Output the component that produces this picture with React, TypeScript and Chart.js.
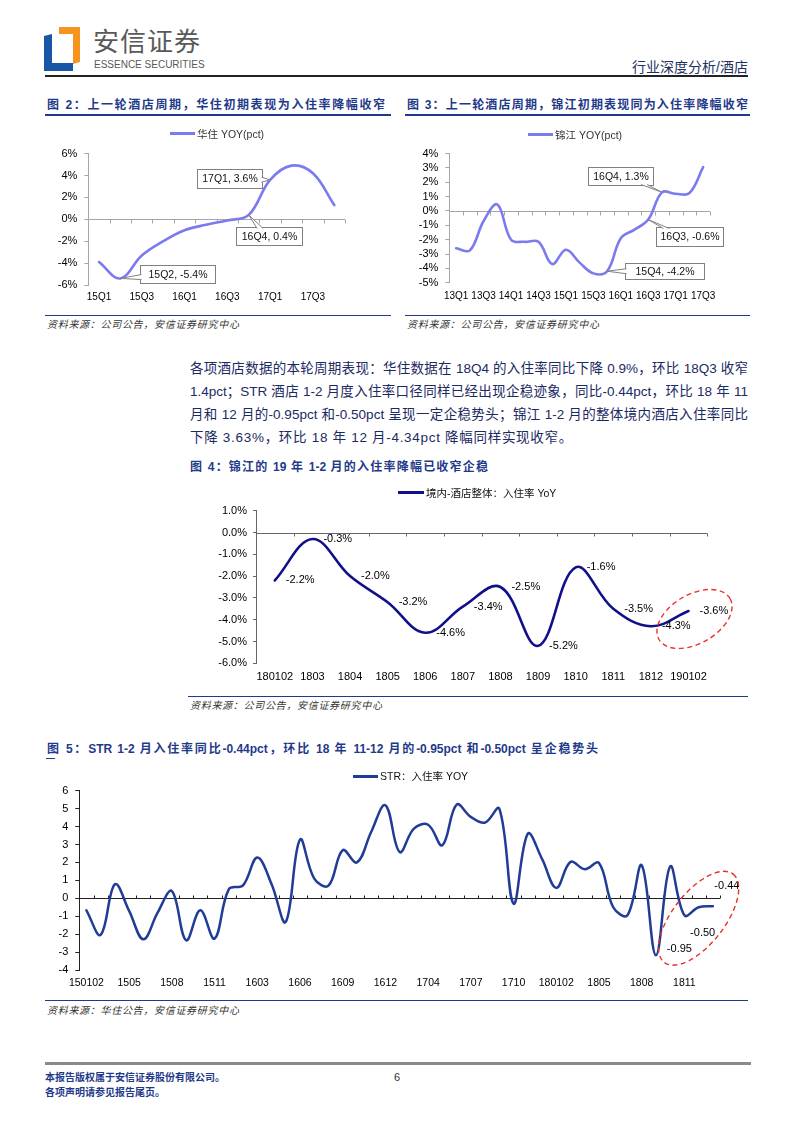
import React, { useEffect, useRef } from "react";
import { Chart, registerables } from "chart.js";

Chart.register(...registerables);

const FONT = '"Liberation Sans", Arial, "Noto Sans CJK SC", sans-serif';
const NAVY = "#1f3a8a";
const TEXT_BLUE = "#1b2a63";

// ---------------- Figure 2: Huazhu quarterly occupancy YoY ----------------
const huazhuQuarters = ["15Q1", "15Q2", "15Q3", "15Q4", "16Q1", "16Q2", "16Q3", "16Q4", "17Q1", "17Q2", "17Q3", "17Q4"];
const huazhuYoy = [-3.9, -5.4, -3.3, -2.0, -1.0, -0.5, -0.1, 0.4, 3.6, 4.9, 4.2, 1.3];
const huazhuShownTicks = ["15Q1", "15Q3", "16Q1", "16Q3", "17Q1", "17Q3"];
const huazhuCalloutQuarters = ["17Q1", "16Q4", "15Q2"];

// ---------------- Figure 3: Jinjiang quarterly occupancy YoY ----------------
const jinjiangQuarters = ["13Q1", "13Q2", "13Q3", "13Q4", "14Q1", "14Q2", "14Q3", "14Q4", "15Q1", "15Q2", "15Q3", "15Q4", "16Q1", "16Q2", "16Q3", "16Q4", "17Q1", "17Q2", "17Q3"];
const jinjiangYoy = [-2.6, -2.75, -0.7, 0.45, -2.0, -2.15, -2.15, -3.7, -2.7, -3.6, -4.35, -4.2, -1.9, -1.3, -0.6, 1.3, 1.2, 1.25, 3.05];
const jinjiangShownTicks = ["13Q1", "13Q3", "14Q1", "14Q3", "15Q1", "15Q3", "16Q1", "16Q3", "17Q1", "17Q3"];
const jinjiangCalloutQuarters = ["16Q4", "16Q3", "15Q4"];

// ---------------- Figure 4: Jinjiang domestic hotels monthly YoY ----------------
const domesticMonths = ["180102", "1803", "1804", "1805", "1806", "1807", "1808", "1809", "1810", "1811", "1812", "190102"];
const domesticYoy = [-2.2, -0.3, -2.0, -3.2, -4.6, -3.4, -2.5, -5.2, -1.6, -3.5, -4.3, -3.6];

// ---------------- Figure 5: STR monthly occupancy YoY ----------------
const strMonths = [
  "150102", "1503", "1504", "1505", "1506", "1507", "1508", "1509", "1510", "1511", "1512",
  "160102", "1603", "1604", "1605", "1606", "1607", "1608", "1609", "1610", "1611", "1612",
  "170102", "1703", "1704", "1705", "1706", "1707", "1708", "1709", "1710", "1711", "1712",
  "180102", "1803", "1804", "1805", "1806", "1807", "1808", "1809", "1810", "1811", "1812",
  "190102",
];
const strYoy = [
  -0.67, -2.04, 0.78, -0.7, -2.29, -0.8, 0.4, -2.34, -0.67, -2.25, 0.5,
  0.72, 2.27, 0.8, -1.32, 3.27, 1.1, 0.7, 2.68, 2.0, 3.7, 5.19,
  2.58, 3.88, 4.1, 2.96, 5.22, 4.54, 4.22, 5.0, -0.3, 3.6, 2.2,
  0.58, 2.03, 1.62, 1.97, -0.5, -0.95, 1.84, -3.18, 1.78, -0.95, -0.5,
  -0.44,
];
const strShownTicks = ["150102", "1505", "1508", "1511", "1603", "1606", "1609", "1612", "1704", "1707", "1710", "180102", "1805", "1808", "1811"];
const strLabelledMonths = ["1811", "1812", "190102"];

// ---------------- styling of annotations (offsets in px from the data point) ----------------
const huazhuCalloutBoxes = [
  { dx: -41, dy: -1, w: 65, h: 19 },
  { dx: 20, dy: 21, w: 66, h: 18 },
  { dx: 57, dy: -4, w: 75, h: 18 },
];
const jinjiangCalloutBoxes = [
  { dx: -41, dy: -16, w: 65, h: 18 },
  { dx: 41, dy: 17, w: 67, h: 19 },
  { dx: 57, dy: 0, w: 79, h: 16 },
];
const strLabelOffsets = [
  { dx: -5, dy: 34 },
  { dx: 4, dy: 26 },
  { dx: 14, dy: -20 },
];

const pct1 = (v: number) => `${v.toFixed(1)}%`;

type Px = (i: number) => number;
type Decorate = (ctx: CanvasRenderingContext2D, px: Px, py: Px) => void;

interface Spec {
  id: string;
  left: number;
  top: number;
  width: number;
  height: number;
  labels: string[];
  values: number[];
  shown: string[];
  color: string;
  lineWidth: number;
  tension: number;
  yMin: number;
  yMax: number;
  yStep: number;
  yFormat: (v: number) => string;
  yAxisWidth: number;
  xAxisHeight: number;
  padTop: number;
  padRight: number;
  yFont: number;
  xFont: number;
  yTickLen: number;
  yTickPad: number;
  xTickPad: number;
  axisColor: string;
  zeroColor: string;
  zeroTick: number;
  decorate?: Decorate;
}

function drawCallout(ctx: CanvasRenderingContext2D, tx: number, ty: number, text: string, dx: number, dy: number, w: number, h: number) {
  const cx = tx + dx;
  const cy = ty + dy;
  const x0 = Math.round(cx - w / 2) + 0.5;
  const y0 = Math.round(cy - h / 2) + 0.5;
  ctx.fillStyle = "#fff";
  ctx.strokeStyle = "#808080";
  ctx.lineWidth = 1;
  ctx.fillRect(x0, y0, w, h);
  ctx.strokeRect(x0, y0, w, h);
  const ddx = tx - cx;
  const ddy = ty - cy;
  let b1: [number, number];
  let b2: [number, number];
  if (Math.abs(ddx) / (w / 2) > Math.abs(ddy) / (h / 2)) {
    const sx = Math.sign(ddx);
    const ex = x0 + (sx > 0 ? w : 0) - sx * 1;
    let ey = cy + (ddy * (w / 2)) / Math.abs(ddx);
    ey = Math.max(y0 + 3, Math.min(y0 + h - 3, ey));
    b1 = [ex, ey - 2.5];
    b2 = [ex, ey + 2.5];
  } else {
    const sy = Math.sign(ddy);
    const ey = y0 + (sy > 0 ? h : 0) - sy * 1;
    let ex = cx + (ddx * (h / 2)) / Math.abs(ddy);
    ex = Math.max(x0 + 4, Math.min(x0 + w - 4, ex));
    b1 = [ex - 3, ey];
    b2 = [ex + 3, ey];
  }
  ctx.beginPath();
  ctx.moveTo(b1[0], b1[1]);
  ctx.lineTo(tx, ty);
  ctx.lineTo(b2[0], b2[1]);
  ctx.closePath();
  ctx.fill();
  ctx.beginPath();
  ctx.moveTo(b1[0], b1[1]);
  ctx.lineTo(tx, ty);
  ctx.lineTo(b2[0], b2[1]);
  ctx.stroke();
  ctx.fillStyle = "#111";
  ctx.font = `10.5px ${FONT}`;
  ctx.textAlign = "center";
  ctx.textBaseline = "middle";
  ctx.fillText(text, x0 + w / 2, y0 + h / 2 + 0.5);
}

function drawEllipse(ctx: CanvasRenderingContext2D, cx: number, cy: number, a: number, b: number, deg: number) {
  ctx.save();
  ctx.strokeStyle = "#e8302c";
  ctx.lineWidth = 1.4;
  ctx.setLineDash([5, 3.5]);
  ctx.beginPath();
  ctx.ellipse(cx, cy, a, b, (deg * Math.PI) / 180, 0, Math.PI * 2);
  ctx.stroke();
  ctx.restore();
}

function LineChart({ spec }: { spec: Spec }) {
  const ref = useRef<HTMLCanvasElement>(null);
  useEffect(() => {
    const s = spec;
    const frame = {
      id: "frame_" + s.id,
      beforeDatasetsDraw(chart: any) {
        const { ctx } = chart;
        const x = chart.scales.x;
        const y = chart.scales.y;
        const y0 = Math.round(y.getPixelForValue(0)) + 0.5;
        ctx.save();
        ctx.strokeStyle = s.zeroColor;
        ctx.lineWidth = 1;
        ctx.beginPath();
        ctx.moveTo(x.left, y0);
        ctx.lineTo(x.right, y0);
        const n = s.labels.length;
        const step = (x.right - x.left) / n;
        for (let k = 0; k <= n; k++) {
          const xx = Math.round(x.left + k * step) + 0.5;
          ctx.moveTo(xx, y0);
          ctx.lineTo(xx, y0 + s.zeroTick);
        }
        ctx.stroke();
        ctx.restore();
      },
      afterDatasetsDraw(chart: any) {
        if (!s.decorate) return;
        const x = chart.scales.x;
        const y = chart.scales.y;
        chart.ctx.save();
        s.decorate(chart.ctx, (i: number) => x.getPixelForValue(i), (v: number) => y.getPixelForValue(v));
        chart.ctx.restore();
      },
    };
    const chart = new Chart(ref.current as HTMLCanvasElement, {
      type: "line",
      data: {
        labels: s.labels,
        datasets: [
          {
            data: s.values,
            borderColor: s.color,
            borderWidth: s.lineWidth,
            tension: s.tension,
            pointRadius: 0,
            fill: false,
            borderCapStyle: "round",
            borderJoinStyle: "round",
          },
        ],
      },
      options: {
        responsive: false,
        animation: false,
        events: [],
        layout: { padding: { top: s.padTop, right: s.padRight, left: 0, bottom: 0 } },
        plugins: { legend: { display: false }, tooltip: { enabled: false } },
        scales: {
          x: {
            type: "category",
            offset: true,
            grid: { display: false, drawTicks: false },
            border: { display: false },
            ticks: {
              autoSkip: false,
              maxRotation: 0,
              minRotation: 0,
              padding: s.xTickPad,
              color: "#000",
              font: { family: FONT, size: s.xFont },
              callback: (_v: any, i: number) => (s.shown.includes(s.labels[i]) ? s.labels[i] : ""),
            },
            afterFit: (sc: any) => {
              sc.height = s.xAxisHeight;
            },
          },
          y: {
            min: s.yMin,
            max: s.yMax,
            grid: { drawOnChartArea: false, drawTicks: true, tickLength: s.yTickLen, color: s.axisColor },
            border: { display: true, color: s.axisColor },
            ticks: {
              autoSkip: false,
              stepSize: s.yStep,
              padding: s.yTickPad,
              color: "#000",
              font: { family: FONT, size: s.yFont },
              callback: (v: any) => s.yFormat(Number(v)),
            },
            afterFit: (sc: any) => {
              sc.width = s.yAxisWidth;
            },
          },
        },
      } as any,
      plugins: [frame],
    });
    return () => chart.destroy();
  }, []);
  return (
    <canvas
      ref={ref}
      width={spec.width}
      height={spec.height}
      style={{ position: "absolute", left: spec.left, top: spec.top, width: spec.width, height: spec.height }}
    />
  );
}

const huazhuSpec: Spec = {
  id: "huazhu",
  left: 40,
  top: 140,
  width: 320,
  height: 170,
  labels: huazhuQuarters,
  values: huazhuYoy,
  shown: huazhuShownTicks,
  color: "#7b7bf0",
  lineWidth: 2.6,
  tension: 0.38,
  yMin: -6,
  yMax: 6,
  yStep: 2,
  yFormat: (v) => `${v}%`,
  yAxisWidth: 48.3,
  xAxisHeight: 25,
  padTop: 9,
  padRight: 15,
  yFont: 11,
  xFont: 10,
  yTickLen: 4,
  yTickPad: 7,
  xTickPad: 6.5,
  axisColor: "#a6a6a6",
  zeroColor: "#a6a6a6",
  zeroTick: 4,
  decorate: (ctx, px, py) => {
    huazhuCalloutQuarters.forEach((q, k) => {
      const i = huazhuQuarters.indexOf(q);
      const v = huazhuYoy[i];
      const b = huazhuCalloutBoxes[k];
      drawCallout(ctx, px(i), py(v), `${q}, ${pct1(v)}`, b.dx, b.dy, b.w, b.h);
    });
  },
};

const jinjiangSpec: Spec = {
  id: "jinjiang",
  left: 400,
  top: 140,
  width: 360,
  height: 170,
  labels: jinjiangQuarters,
  values: jinjiangYoy,
  shown: jinjiangShownTicks,
  color: "#7b7bf0",
  lineWidth: 2.6,
  tension: 0.38,
  yMin: -5,
  yMax: 4,
  yStep: 1,
  yFormat: (v) => `${v}%`,
  yAxisWidth: 49.3,
  xAxisHeight: 27.3,
  padTop: 10,
  padRight: 50,
  yFont: 11,
  xFont: 10,
  yTickLen: 4,
  yTickPad: 7,
  xTickPad: 7.8,
  axisColor: "#a6a6a6",
  zeroColor: "#a6a6a6",
  zeroTick: 4,
  decorate: (ctx, px, py) => {
    jinjiangCalloutQuarters.forEach((q, k) => {
      const i = jinjiangQuarters.indexOf(q);
      const v = jinjiangYoy[i];
      const b = jinjiangCalloutBoxes[k];
      drawCallout(ctx, px(i), py(v), `${q}, ${pct1(v)}`, b.dx, b.dy, b.w, b.h);
    });
  },
};

const domesticSpec: Spec = {
  id: "domestic",
  left: 185,
  top: 482,
  width: 560,
  height: 208,
  labels: domesticMonths,
  values: domesticYoy,
  shown: domesticMonths,
  color: "#10108c",
  lineWidth: 2.6,
  tension: 0.38,
  yMin: -6,
  yMax: 1,
  yStep: 1,
  yFormat: (v) => `${v.toFixed(1)}%`,
  yAxisWidth: 71,
  xAxisHeight: 26.7,
  padTop: 28.7,
  padRight: 37.7,
  yFont: 11,
  xFont: 11,
  yTickLen: 3,
  yTickPad: 6,
  xTickPad: 6.7,
  axisColor: "#666",
  zeroColor: "#666",
  zeroTick: 3,
  decorate: (ctx, px, py) => {
    ctx.fillStyle = "#000";
    ctx.font = `11px ${FONT}`;
    ctx.textAlign = "left";
    ctx.textBaseline = "middle";
    domesticYoy.forEach((v, i) => {
      ctx.fillText(pct1(v), px(i) + 11, py(v));
    });
    const last = domesticYoy.length - 1;
    drawEllipse(ctx, px(last) + 6, py(domesticYoy[last]) + 8, 41, 24.5, -30);
  },
};

const strSpec: Spec = {
  id: "str",
  left: 30,
  top: 765,
  width: 730,
  height: 230,
  labels: strMonths,
  values: strYoy,
  shown: strShownTicks,
  color: "#203c96",
  lineWidth: 2.5,
  tension: 0.38,
  yMin: -4,
  yMax: 6,
  yStep: 1,
  yFormat: (v) => `${v}`,
  yAxisWidth: 49.3,
  xAxisHeight: 25,
  padTop: 25.7,
  padRight: 40,
  yFont: 11,
  xFont: 10.5,
  yTickLen: 4,
  yTickPad: 7,
  xTickPad: 7.2,
  axisColor: "#222",
  zeroColor: "#222",
  zeroTick: -3,
  decorate: (ctx, px, py) => {
    ctx.fillStyle = "#000";
    ctx.font = `11px ${FONT}`;
    ctx.textAlign = "center";
    ctx.textBaseline = "middle";
    strLabelledMonths.forEach((m, k) => {
      const i = strMonths.indexOf(m);
      const v = strYoy[i];
      const o = strLabelOffsets[k];
      ctx.fillText(v.toFixed(2), px(i) + o.dx, py(v) + o.dy);
    });
    const mid = strMonths.indexOf("1812");
    drawEllipse(ctx, px(mid), py(strYoy[mid]) + 11, 56, 26, -52);
  },
};

interface TxtProps {
  x: number;
  y: number;
  w?: number;
  size: number;
  color?: string;
  bold?: boolean;
  italic?: boolean;
  justify?: boolean;
  right?: boolean;
  ls?: number;
  lh?: number;
  children: React.ReactNode;
}

function Txt({ x, y, w, size, color = "#000", bold, italic, justify, right, ls, lh, children }: TxtProps) {
  const lineH = lh ?? Math.round(size * 1.5);
  return (
    <div
      style={{
        position: "absolute",
        left: x,
        top: y - lineH / 2,
        width: w,
        fontSize: size,
        lineHeight: `${lineH}px`,
        color,
        fontWeight: bold ? 700 : 400,
        fontStyle: italic ? "italic" : "normal",
        fontFamily: FONT,
        letterSpacing: ls,
        whiteSpace: justify ? "normal" : "nowrap",
        textAlign: justify ? "justify" : right ? "right" : "left",
        textAlignLast: justify ? "justify" : right ? "right" : "auto",
      } as React.CSSProperties}
    >
      {children}
    </div>
  );
}

function Rule({ x, y, w, h, color }: { x: number; y: number; w: number; h: number; color: string }) {
  return <div style={{ position: "absolute", left: x, top: y, width: w, height: h, background: color }} />;
}

function Legend({ x, y, lineW, color, text, size = 10.5, textColor = "#333" }: { x: number; y: number; lineW: number; color: string; text: string; size?: number; textColor?: string }) {
  return (
    <>
      <div style={{ position: "absolute", left: x, top: y - 1.5, width: lineW, height: 3, background: color }} />
      <Txt x={x + lineW + 2} y={y} size={size} color={textColor}>
        {text}
      </Txt>
    </>
  );
}

export default function App() {
  return (
    <div style={{ position: "absolute", left: 0, top: 0, width: 793, height: 1122, background: "#fff", overflow: "hidden" }}>
      {/* header */}
      <svg style={{ position: "absolute", left: 44, top: 27 }} width={36} height={44} viewBox="0 0 36 44">
        <path d="M15 0 H36 V35 L29 37 V7 H15 Z" fill="#f7941d" />
        <path d="M0 9 L8 7 V36 H29 V44 H0 Z" fill="#1a56a6" />
      </svg>
      <Txt x={93} y={42} size={26} color="#595959" ls={1}>
        安信证券
      </Txt>
      <Txt x={94} y={64} size={10} color="#595959">
        ESSENCE SECURITIES
      </Txt>
      <Txt x={548} y={67} w={200} size={14} color="#23305f" right>
        行业深度分析/酒店
      </Txt>
      <Rule x={45} y={75} w={703} h={1.5} color="#222" />

      {/* figure 2 & 3 titles */}
      <Txt x={47} y={105} w={338} size={12} color={NAVY} bold justify>
        图 2：上一轮酒店周期，华住初期表现为入住率降幅收窄
      </Txt>
      <Rule x={45} y={114} w={346} h={1.5} color={NAVY} />
      <Txt x={407} y={105} w={341} size={12} color={NAVY} bold justify>
        图 3：上一轮酒店周期，锦江初期表现同为入住率降幅收窄
      </Txt>
      <Rule x={405} y={114} w={345} h={1.5} color={NAVY} />

      <LineChart spec={huazhuSpec} />
      <LineChart spec={jinjiangSpec} />
      <Legend x={170} y={133.5} lineW={25} color="#7b7bf0" text="华住 YOY(pct)" />
      <Legend x={528} y={134.5} lineW={25} color="#7b7bf0" text="锦江 YOY(pct)" />

      <Rule x={45} y={315} w={346} h={1} color={NAVY} />
      <Txt x={47} y={324} size={10} color="#333" italic ls={0.7}>
        资料来源：公司公告，安信证券研究中心
      </Txt>
      <Rule x={405} y={315} w={345} h={1} color={NAVY} />
      <Txt x={407} y={324} size={10} color="#333" italic ls={0.7}>
        资料来源：公司公告，安信证券研究中心
      </Txt>

      {/* paragraph */}
      <Txt x={190} y={368} w={558} size={13.5} color={TEXT_BLUE} lh={23} justify>
        各项酒店数据的本轮周期表现：华住数据在 18Q4 的入住率同比下降 0.9%，环比 18Q3 收窄
      </Txt>
      <Txt x={190} y={391} w={558} size={13.5} color={TEXT_BLUE} lh={23} justify>
        1.4pct；STR 酒店 1-2 月度入住率口径同样已经出现企稳迹象，同比-0.44pct，环比 18 年 11
      </Txt>
      <Txt x={190} y={414} w={558} size={13.5} color={TEXT_BLUE} lh={23} justify>
        月和 12 月的-0.95pct 和-0.50pct 呈现一定企稳势头；锦江 1-2 月的整体境内酒店入住率同比
      </Txt>
      <Txt x={190} y={437} size={13.5} color={TEXT_BLUE} lh={23} ls={0.7}>
        下降 3.63%，环比 18 年 12 月-4.34pct 降幅同样实现收窄。
      </Txt>

      {/* figure 4 */}
      <Txt x={190} y={467} w={298} size={12} color={NAVY} bold justify>
        图 4：锦江的 19 年 1-2 月的入住率降幅已收窄企稳
      </Txt>
      <LineChart spec={domesticSpec} />
      <Legend x={398} y={492.5} lineW={26} color="#10108c" text="境内-酒店整体：入住率 YoY" textColor="#111" />
      <Rule x={188} y={696} w={560} h={1} color={NAVY} />
      <Txt x={190} y={705} size={10} color="#333" italic ls={0.7}>
        资料来源：公司公告，安信证券研究中心
      </Txt>

      {/* figure 5 */}
      <Txt x={47} y={749} w={551} size={12} color={NAVY} bold justify>
        图 5：STR 1-2 月入住率同比-0.44pct，环比 18 年 11-12 月的-0.95pct 和-0.50pct 呈企稳势头
      </Txt>
      <Rule x={46} y={758} w={9} h={1} color={NAVY} />
      <LineChart spec={strSpec} />
      <Legend x={353} y={776} lineW={25} color="#203c96" text="STR：入住率 YOY" textColor="#111" />
      <Rule x={45} y={1000} w={703} h={1} color={NAVY} />
      <Txt x={47} y={1010} size={10} color="#333" italic ls={0.7}>
        资料来源：华住公告，安信证券研究中心
      </Txt>

      {/* footer */}
      <Rule x={45} y={1062} w={706} h={2.5} color="#8a8a8a" />
      <Txt x={45} y={1077} size={10} color={NAVY} bold>
        本报告版权属于安信证券股份有限公司。
      </Txt>
      <Txt x={45} y={1092} size={10} color={NAVY} bold>
        各项声明请参见报告尾页。
      </Txt>
      <Txt x={394} y={1077} size={11} color="#333">
        6
      </Txt>
    </div>
  );
}
